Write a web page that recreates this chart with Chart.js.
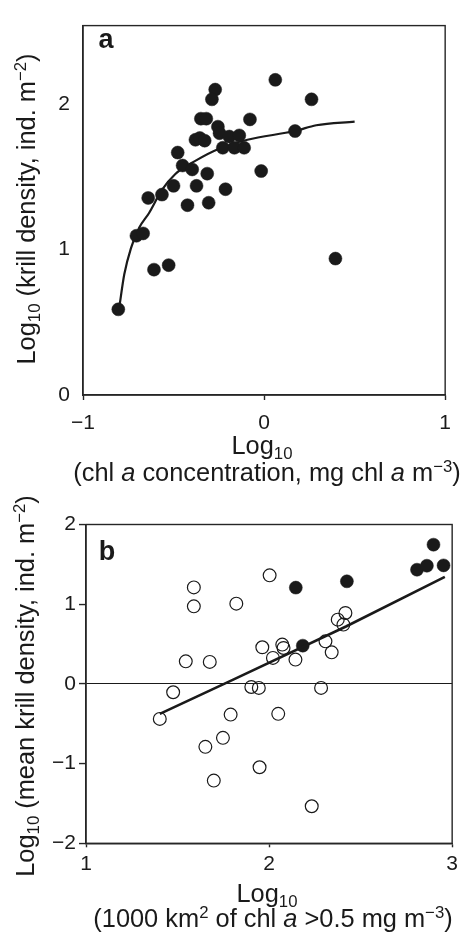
<!DOCTYPE html>
<html>
<head>
<meta charset="utf-8">
<script src="https://cdn.jsdelivr.net/npm/chart.js@4.4.1/dist/chart.umd.min.js"></script>
<style>
html,body{margin:0;padding:0;background:#fff;}
body{width:462px;height:933px;position:relative;overflow:hidden;font-family:"Liberation Sans",Arial,sans-serif;color:#1a1a1a;}
.cv{position:absolute;left:0;width:462px;}
.t{position:absolute;white-space:nowrap;font-size:25.4px;line-height:1;transform:translate(-50%,-50%);}
.rot{transform:translate(-50%,-50%) rotate(-90deg);}
.t sub,.t sup{font-size:0.66em;line-height:0;position:relative;vertical-align:baseline;}
.t sub{top:0.3em;}
.t sup{top:-0.55em;}
.lbl{position:absolute;font-weight:bold;font-size:27px;line-height:1;transform:translate(-50%,-50%);}
</style>
</head>
<body>
<div class="cv" style="top:0;height:480px;"><canvas id="ca"></canvas></div>
<div class="cv" style="top:480px;height:453px;"><canvas id="cb"></canvas></div>

<div class="t rot" style="left:27px;top:209px;">Log<sub>10</sub> (krill density, ind. m<sup>−2</sup>)</div>
<div class="t" style="left:262px;top:446px;">Log<sub>10</sub></div>
<div class="t" style="left:267px;top:473px;">(chl <i>a</i> concentration, mg chl <i>a</i> m<sup>−3</sup>)</div>
<div class="lbl" style="left:106px;top:39px;">a</div>

<div class="t rot" style="left:26px;top:686px;">Log<sub>10</sub> (mean krill density, ind. m<sup>−2</sup>)</div>
<div class="t" style="left:267px;top:894px;">Log<sub>10</sub></div>
<div class="t" style="left:273px;top:919px;">(1000 km<sup>2</sup> of chl <i>a</i> &gt;0.5 mg m<sup>−3</sup>)</div>
<div class="lbl" style="left:107px;top:551px;">b</div>

<script>
// ---------- Panel a: krill density vs chl a concentration ----------
const chlA = [0.062, 0.262, -0.27, -0.288, -0.349, -0.319, -0.078, -0.255, -0.246, -0.192,
              -0.137, -0.379, -0.355, -0.328, 0.171, -0.228, -0.164, -0.11, -0.477, -0.45,
              -0.397, -0.314, -0.016, -0.5, -0.373, -0.213, -0.64, -0.564, -0.423, -0.306,
              -0.705, -0.668, -0.608, -0.527, 0.394, -0.805];
const krillA = [2.167, 2.033, 2.10, 2.033, 1.90, 1.90, 1.895, 1.845, 1.80, 1.777,
                1.785, 1.755, 1.767, 1.749, 1.815, 1.70, 1.70, 1.70, 1.667, 1.578,
                1.551, 1.522, 1.54, 1.438, 1.438, 1.415, 1.355, 1.378, 1.305, 1.322,
                1.095, 1.111, 0.862, 0.893, 0.938, 0.589];
const fitAX = [-0.80, -0.772, -0.735, -0.69, -0.636, -0.564, -0.49, -0.38, -0.255, -0.092, 0.17, 0.288, 0.50];
const fitAY = [0.60, 0.83, 1.01, 1.15, 1.25, 1.41, 1.52, 1.61, 1.69, 1.755, 1.815, 1.855, 1.88];
const xTicksA = [-1, 0, 1];
const yTicksA = [0, 1, 2];

// ---------- Panel b: mean krill density vs area of chl a > 0.5 ----------
const areaOpen = [1.589, 1.589, 1.821, 2.003, 1.545, 1.676, 1.963, 2.021, 2.072, 2.079,
                  2.144, 2.308, 2.342, 2.375, 2.417, 2.406, 1.476, 1.903, 1.944, 2.284,
                  1.403, 1.790, 2.050, 1.748, 1.652, 1.948, 1.698, 2.233];
const krillOpen = [1.211, 0.973, 1.007, 1.362, 0.283, 0.276, 0.459, 0.326, 0.493, 0.451,
                   0.305, 0.534, 0.396, 0.806, 0.890, 0.744, -0.105, -0.038, -0.05, -0.05,
                   -0.439, -0.385, -0.376, -0.677, -0.79, -1.046, -1.213, -1.535];
const areaFilled = [2.146, 2.184, 2.425, 2.808, 2.862, 2.898, 2.953];
const krillFilled = [1.208, 0.480, 1.287, 1.433, 1.483, 1.747, 1.487];
const fitBX = [1.403, 1.81, 2.42, 2.96];
const fitBY = [-0.376, 0.06, 0.72, 1.342];
const xTicksB = [1, 2, 3];
const yTicksB = [-2, -1, 0, 1, 2];

const INK = '#1a1a1a';
const pts = (xs, ys) => xs.map((x, i) => ({x: x, y: ys[i]}));
const fmt = v => (v < 0 ? '\u2212' + Math.abs(v) : String(v));
const setTicks = arr => scale => { scale.ticks = arr.map(v => ({value: v})); };

const framePlugin = {
  id: 'frame',
  beforeDatasetsDraw(chart) {
    const {ctx, chartArea: a} = chart;
    ctx.save();
    ctx.strokeStyle = '#262626';
    ctx.lineWidth = 1.4;
    ctx.strokeRect(a.left, a.top, a.right - a.left, a.bottom - a.top);
    ctx.restore();
  }
};

Chart.defaults.font.family = '"Liberation Sans", Arial, sans-serif';
Chart.defaults.color = INK;
Chart.defaults.animation = false;

// Panel a geometry (canvas 462x480): plot left 83, top 14, right 451, bottom 395
new Chart(document.getElementById('ca'), {
  type: 'scatter',
  data: {
    datasets: [
      {
        data: pts(chlA, krillA),
        pointRadius: 6.5,
        pointBackgroundColor: INK,
        pointBorderColor: INK,
        pointBorderWidth: 0.5
      },
      {
        data: pts(fitAX, fitAY),
        showLine: true,
        pointRadius: 0,
        borderColor: INK,
        borderWidth: 2.2,
        cubicInterpolationMode: 'monotone',
        fill: false
      }
    ]
  },
  options: {
    responsive: true,
    maintainAspectRatio: false,
    animation: false,
    events: [],
    layout: {padding: {top: 14, right: 11, left: 0, bottom: 0}},
    plugins: {legend: {display: false}, tooltip: {enabled: false}},
    scales: {
      x: {
        type: 'linear', min: -1, max: 1,
        afterBuildTicks: setTicks(xTicksA),
        afterFit: s => { s.height = 480 - 395; },
        ticks: {font: {size: 21}, color: INK, padding: 11, maxRotation: 0, callback: fmt},
        grid: {drawOnChartArea: false, drawTicks: true, tickLength: 5, tickColor: '#262626', tickWidth: 1.4},
        border: {display: true, color: '#262626', width: 1.4}
      },
      y: {
        type: 'linear', min: 0, max: 2.54,
        afterBuildTicks: setTicks(yTicksA),
        afterFit: s => { s.width = 83; },
        ticks: {font: {size: 21}, color: INK, padding: 13, callback: fmt},
        grid: {drawOnChartArea: false, drawTicks: false},
        border: {display: true, color: '#262626', width: 1.4}
      }
    }
  },
  plugins: [framePlugin]
});

// Panel b geometry (canvas 462x453, top 480): plot left 86, top 44.5, right 454, bottom 363.3
new Chart(document.getElementById('cb'), {
  type: 'scatter',
  data: {
    datasets: [
      {
        data: pts(fitBX, fitBY),
        showLine: true,
        pointRadius: 0,
        borderColor: INK,
        borderWidth: 2.6,
        fill: false
      },
      {
        data: pts(areaOpen, krillOpen),
        pointRadius: 6.4,
        pointBackgroundColor: 'rgba(0,0,0,0)',
        pointBorderColor: INK,
        pointBorderWidth: 1.2
      },
      {
        data: pts(areaFilled, krillFilled),
        pointRadius: 6.5,
        pointBackgroundColor: INK,
        pointBorderColor: INK,
        pointBorderWidth: 0.5
      }
    ]
  },
  options: {
    responsive: true,
    maintainAspectRatio: false,
    animation: false,
    events: [],
    layout: {padding: {top: 44.5, right: 8, left: 0, bottom: 0}},
    plugins: {legend: {display: false}, tooltip: {enabled: false}},
    scales: {
      x: {
        type: 'linear', min: 1, max: 3,
        afterBuildTicks: setTicks(xTicksB),
        afterFit: s => { s.height = 453 - 363.3; },
        ticks: {font: {size: 21}, color: INK, padding: 4, maxRotation: 0, callback: fmt},
        grid: {drawOnChartArea: false, drawTicks: true, tickLength: 4, tickColor: '#262626', tickWidth: 1.4},
        border: {display: true, color: '#262626', width: 1.4}
      },
      y: {
        type: 'linear', min: -2, max: 2,
        afterBuildTicks: setTicks(yTicksB),
        afterFit: s => { s.width = 86; },
        ticks: {font: {size: 21}, color: INK, padding: 3, callback: fmt},
        grid: {
          drawOnChartArea: true,
          color: c => (c.tick && c.tick.value === 0 ? INK : 'rgba(0,0,0,0)'),
          lineWidth: 1.1,
          drawTicks: true, tickLength: 7, tickColor: '#262626', tickWidth: 1.4
        },
        border: {display: true, color: '#262626', width: 1.4}
      }
    }
  },
  plugins: [framePlugin]
});
</script>
</body>
</html>
